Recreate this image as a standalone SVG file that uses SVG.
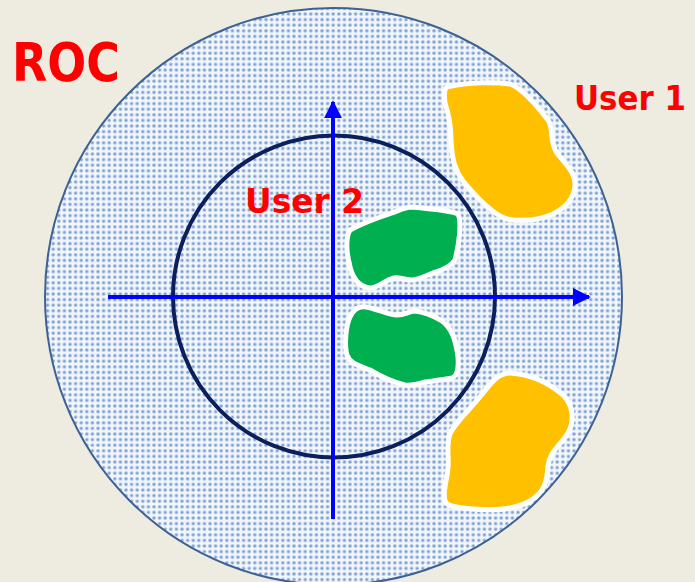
<svg xmlns="http://www.w3.org/2000/svg" width="695" height="582" viewBox="0 0 695 582">
<defs>
<pattern id="dots" width="5.6" height="5.6" patternUnits="userSpaceOnUse">
<rect width="5.6" height="5.6" fill="#F2F6FB"/>
<circle cx="2.8" cy="2.8" r="1.7" fill="#7FA2D3"/>
</pattern>
<marker id="arr" viewBox="0 0 10 10" refX="9" refY="5" markerWidth="4.5" markerHeight="4.5" orient="auto" markerUnits="strokeWidth">
<path d="M0,0 L10,5 L0,10 Z" fill="#0000FF"/>
</marker>
<style>
.lbl{font-family:"Comic Sans MS","DejaVu Sans","Liberation Sans",sans-serif;font-weight:bold;fill:#FF0000}
.yb{fill:#FFC000;stroke:#FFFFFF;stroke-width:5;stroke-linejoin:round}
.gb{fill:#00B050;stroke:#FFFFFF;stroke-width:5;stroke-linejoin:round}
.axis{stroke:#0000FF;stroke-width:4;fill:none}
</style>
</defs>
<rect width="695" height="582" fill="#EEEBE0"/>
<g id="roc-region">
<circle cx="333.5" cy="296.5" r="288.5" fill="url(#dots)" stroke="#3E6294" stroke-width="2"/>
</g>
<g id="inner-circle">
<circle cx="334" cy="296.5" r="161" fill="none" stroke="#0B1F5C" stroke-width="4"/>
</g>
<g id="user1-top">
<path class="yb" d="M447,87 C470,82 495,82 510,84 C522,88 537,106 548,120 C554,128 549,142 557,153 C566,165 576,173 575,186 C574,199 565,208 553,214 C540,220 525,222 507,219 C494,215 478,199 463,181 C455,170 452,160 451,140 C451,125 448,112 445,103 C444,95 444,89 447,87 Z"/>
</g>
<g id="user1-bottom">
<path class="yb" d="M510,373 C527,374 547,381 564,396 C573,406 575,420 568,433 C560,446 550,451 548,466 C547,481 545,492 530,501 C515,510 495,511 473,509 C460,508 450,507 446,503 C441,496 447,481 448,468 C449,455 446,445 450,434 C455,422 470,410 483,393 C490,385 497,373 510,373 Z"/>
</g>
<g id="user2-top">
<path class="gb" d="M350,230 C365,222 380,217 392,213 C400,210 405,207 412,207 C430,209 450,210 458,214 C462,222 459,245 455,260 C450,268 440,271 433,273 C425,276 418,280 411,280 C404,280 400,277 394,278 C385,280 378,288 370,288 C360,287 352,280 349,262 C346,250 346,236 350,230 Z"/>
</g>
<g id="user2-bottom">
<path class="gb" d="M350,317 C354,308 360,306 366,307 C378,309 388,315 397,315 C404,315 408,312 414,311 C425,312 434,316 442,321 C452,328 456,340 458,357 C459,370 457,376 452,378 C442,380 432,381 425,382 C418,384 412,386 405,385 C395,383 380,376 370,370 C360,366 350,364 347,355 C344,345 346,325 350,317 Z"/>
</g>
<g id="axes">
<line class="axis" x1="108" y1="297" x2="589" y2="297" marker-end="url(#arr)"/>
<line class="axis" x1="333" y1="519" x2="333" y2="102" marker-end="url(#arr)"/>
</g>
<g id="labels">
<text class="lbl" x="12" y="81" font-size="54" textLength="108" lengthAdjust="spacingAndGlyphs">ROC</text>
<text class="lbl" x="574" y="110" font-size="34" textLength="112" lengthAdjust="spacingAndGlyphs">User 1</text>
<text class="lbl" x="245" y="213" font-size="34" textLength="119" lengthAdjust="spacingAndGlyphs">User 2</text>
</g>
</svg>
